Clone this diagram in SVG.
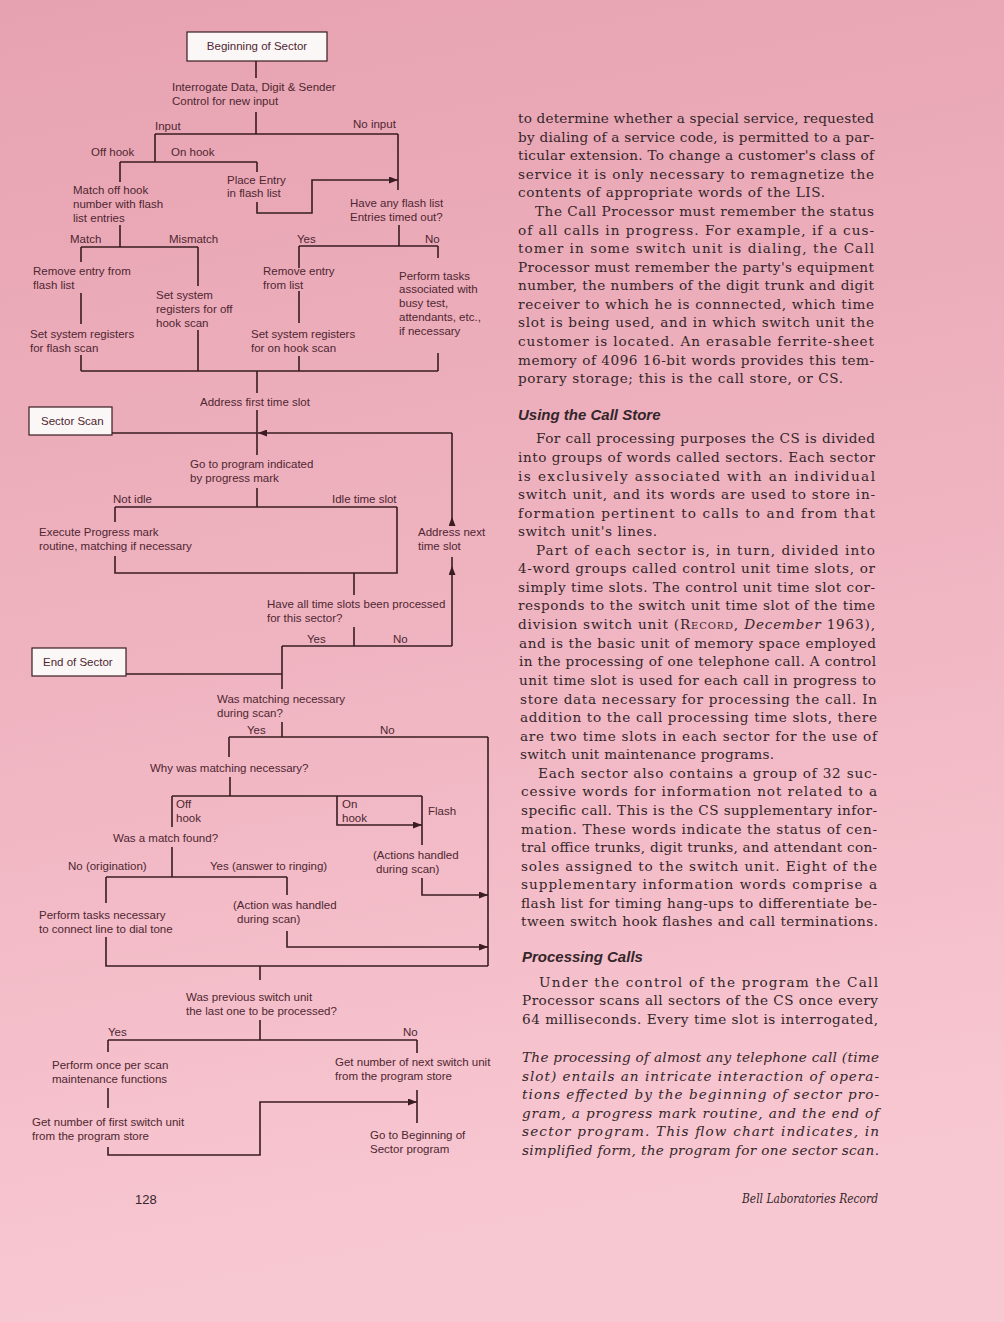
<svg xmlns="http://www.w3.org/2000/svg" width="1004" height="1322" viewBox="0 0 1004 1322">
<defs>
<linearGradient id="bg" x1="0" y1="0" x2="0.15" y2="1">
<stop offset="0" stop-color="#e7a2b1"/>
<stop offset="0.5" stop-color="#efb3c0"/>
<stop offset="1" stop-color="#f8c8d2"/>
</linearGradient>
<marker id="arr" markerUnits="userSpaceOnUse" markerWidth="9" markerHeight="7" refX="9" refY="3.5" orient="auto">
<path d="M0,0 L9,3.5 L0,7 z" fill="#3a1c22"/>
</marker>
<style>
.fc{font-family:"Liberation Sans","DejaVu Sans",sans-serif;font-size:11.5px;fill:#4f2631}
.bx{fill:#fbf7f6;stroke:#3a1c22;stroke-width:1.2}
.ln{fill:none;stroke:#3a1c22;stroke-width:1.6}
.bd{font-family:"DejaVu Serif","Liberation Serif",serif;font-size:13.6px;fill:#34262a}
.it{font-family:"DejaVu Serif","Liberation Serif",serif;font-size:13.6px;font-style:italic;fill:#34262a}
.hd{font-family:"Liberation Sans","DejaVu Sans",sans-serif;font-size:15px;font-weight:bold;font-style:italic;fill:#34262a}
.ft{font-family:"Liberation Sans","DejaVu Sans",sans-serif;font-size:13px;fill:#34262a}
</style>
</defs>
<rect width="1004" height="1322" fill="url(#bg)"/>

<g id="connectors" class="ln">
<path d="M256,61V78M256,112V134M155,134H398M155,134V162M398,134V190"/>
<path d="M120,162H257M120,162V182M257,162V172"/>
<path d="M257,202V213H312V180H398" marker-end="url(#arr)"/>
<path d="M120,225V247M81,247H198M81,247V262M198,247V286M81,293V324M81,355V371M198,330V371M81,371H438"/>
<path d="M399,225V246M299,246H438M299,246V268M299,291V323M299,356V371M438,246V258M438,353V371"/>
<path d="M257,371V393M257,410V455M112,433H257"/>
<path d="M452,433H258" marker-end="url(#arr)"/>
<path d="M452,646V566" marker-end="url(#arr)"/>
<path d="M452,566V557M452,517V433"/>
<path d="M452,525V517" marker-end="url(#arr)"/>
<path d="M257,488V507M115,507H397M115,507V522M115,556V573H397V507M354,573V595"/>
<path d="M354,627V646M282,646H452M126,674H282M282,646V689"/>
<path d="M282,722V737M229,737H488M229,737V757M488,737V966"/>
<path d="M230,777V796M172,796H422M422,796V845M172,796V827M172,847V877M106,877H287M106,877V903M287,877V895M106,937V966H488"/>
<path d="M337,796V825H422" marker-end="url(#arr)"/>
<path d="M422,878V895H488" marker-end="url(#arr)"/>
<path d="M287,931V947H488" marker-end="url(#arr)"/>
<path d="M260,966V980M260,1020V1040M108,1040H417M108,1040V1052M108,1088V1108M417,1040V1053M417,1090V1123"/>
<path d="M108,1147V1155H260V1102H417" marker-end="url(#arr)"/>
</g>

<g id="beginning-of-sector"><rect class="bx" x="187" y="32" width="140" height="29"/><text class="fc" x="257" y="50" text-anchor="middle">Beginning of Sector</text></g>
<g id="interrogate"><text class="fc" x="172" y="91">Interrogate Data, Digit &amp; Sender</text><text class="fc" x="172" y="105">Control for new input</text></g>
<g id="lbl-input"><text class="fc" x="155" y="130">Input</text></g>
<g id="lbl-noinput"><text class="fc" x="353" y="128">No input</text></g>
<g id="lbl-offhook"><text class="fc" x="91" y="156">Off hook</text></g>
<g id="lbl-onhook"><text class="fc" x="171" y="156">On hook</text></g>
<g id="place-entry"><text class="fc" x="227" y="184">Place Entry</text><text class="fc" x="227" y="197">in flash list</text></g>
<g id="match-off-hook"><text class="fc" x="73" y="194">Match off hook</text><text class="fc" x="73" y="208">number with flash</text><text class="fc" x="73" y="222">list entries</text></g>
<g id="flash-timed-out"><text class="fc" x="350" y="207">Have any flash list</text><text class="fc" x="350" y="221">Entries timed out?</text></g>
<g id="lbl-match"><text class="fc" x="70" y="243">Match</text></g>
<g id="lbl-mismatch"><text class="fc" x="169" y="243">Mismatch</text></g>
<g id="lbl-yes1"><text class="fc" x="297" y="243">Yes</text></g>
<g id="lbl-no1"><text class="fc" x="425" y="243">No</text></g>
<g id="remove-entry-flash"><text class="fc" x="33" y="275">Remove entry from</text><text class="fc" x="33" y="289">flash list</text></g>
<g id="set-offhook-scan"><text class="fc" x="156" y="299">Set system</text><text class="fc" x="156" y="313">registers for off</text><text class="fc" x="156" y="327">hook scan</text></g>
<g id="set-flash-scan"><text class="fc" x="30" y="338">Set system registers</text><text class="fc" x="30" y="352">for flash scan</text></g>
<g id="remove-entry-list"><text class="fc" x="263" y="275">Remove entry</text><text class="fc" x="263" y="289">from list</text></g>
<g id="set-onhook-scan"><text class="fc" x="251" y="338">Set system registers</text><text class="fc" x="251" y="352">for on hook scan</text></g>
<g id="perform-tasks-busy"><text class="fc" x="399" y="280">Perform tasks</text><text class="fc" x="399" y="293">associated with</text><text class="fc" x="399" y="307">busy test,</text><text class="fc" x="399" y="321">attendants, etc.,</text><text class="fc" x="399" y="335">if necessary</text></g>
<g id="address-first"><text class="fc" x="200" y="406">Address first time slot</text></g>
<g id="sector-scan"><rect class="bx" x="29" y="407" width="83" height="28"/><text class="fc" x="41" y="425">Sector Scan</text></g>
<g id="go-to-program"><text class="fc" x="190" y="468">Go to program indicated</text><text class="fc" x="190" y="482">by progress mark</text></g>
<g id="lbl-notidle"><text class="fc" x="113" y="503">Not idle</text></g>
<g id="lbl-idle"><text class="fc" x="332" y="503">Idle time slot</text></g>
<g id="execute-progress"><text class="fc" x="39" y="536">Execute Progress mark</text><text class="fc" x="39" y="550">routine, matching if necessary</text></g>
<g id="address-next"><text class="fc" x="418" y="536">Address next</text><text class="fc" x="418" y="550">time slot</text></g>
<g id="all-processed"><text class="fc" x="267" y="608">Have all time slots been processed</text><text class="fc" x="267" y="622">for this sector?</text></g>
<g id="lbl-yes2"><text class="fc" x="307" y="643">Yes</text></g>
<g id="lbl-no2"><text class="fc" x="393" y="643">No</text></g>
<g id="end-of-sector"><rect class="bx" x="32" y="648" width="94" height="28"/><text class="fc" x="43" y="666">End of Sector</text></g>
<g id="matching-necessary"><text class="fc" x="217" y="703">Was matching necessary</text><text class="fc" x="217" y="717">during scan?</text></g>
<g id="lbl-yes3"><text class="fc" x="247" y="734">Yes</text></g>
<g id="lbl-no3"><text class="fc" x="380" y="734">No</text></g>
<g id="why-matching"><text class="fc" x="150" y="772">Why was matching necessary?</text></g>
<g id="lbl-off-hook2"><text class="fc" x="176" y="808">Off</text><text class="fc" x="176" y="822">hook</text></g>
<g id="lbl-on-hook2"><text class="fc" x="342" y="808">On</text><text class="fc" x="342" y="822">hook</text></g>
<g id="lbl-flash"><text class="fc" x="428" y="815">Flash</text></g>
<g id="match-found"><text class="fc" x="113" y="842">Was a match found?</text></g>
<g id="actions-handled"><text class="fc" x="373" y="859">(Actions handled</text><text class="fc" x="376" y="873">during scan)</text></g>
<g id="lbl-no-origination"><text class="fc" x="68" y="870">No (origination)</text></g>
<g id="lbl-yes-answer"><text class="fc" x="210" y="870">Yes (answer to ringing)</text></g>
<g id="action-handled"><text class="fc" x="233" y="909">(Action was handled</text><text class="fc" x="237" y="923">during scan)</text></g>
<g id="dial-tone"><text class="fc" x="39" y="919">Perform tasks necessary</text><text class="fc" x="39" y="933">to connect line to dial tone</text></g>
<g id="previous-switch"><text class="fc" x="186" y="1001">Was previous switch unit</text><text class="fc" x="186" y="1015">the last one to be processed?</text></g>
<g id="lbl-yes4"><text class="fc" x="108" y="1036">Yes</text></g>
<g id="lbl-no4"><text class="fc" x="403" y="1036">No</text></g>
<g id="maintenance"><text class="fc" x="52" y="1069">Perform once per scan</text><text class="fc" x="52" y="1083">maintenance functions</text></g>
<g id="next-switch"><text class="fc" x="335" y="1066">Get number of next switch unit</text><text class="fc" x="335" y="1080">from the program store</text></g>
<g id="first-switch"><text class="fc" x="32" y="1126">Get number of first switch unit</text><text class="fc" x="32" y="1140">from the program store</text></g>
<g id="go-beginning"><text class="fc" x="370" y="1139">Go to Beginning of</text><text class="fc" x="370" y="1153">Sector program</text></g>

<g id="body-text">
<text class="bd" x="518" y="123" textLength="356">to determine whether a special service, requested</text>
<text class="bd" x="518" y="142" textLength="356">by dialing of a service code, is permitted to a par-</text>
<text class="bd" x="518" y="160" textLength="356">ticular extension. To change a customer's class of</text>
<text class="bd" x="518" y="179" textLength="356">service it is only necessary to remagnetize the</text>
<text class="bd" x="518" y="197" textLength="307">contents of appropriate words of the LIS.</text>
<text class="bd" x="535" y="216" textLength="339">The Call Processor must remember the status</text>
<text class="bd" x="518" y="235" textLength="356">of all calls in progress. For example, if a cus-</text>
<text class="bd" x="518" y="253" textLength="356">tomer in some switch unit is dialing, the Call</text>
<text class="bd" x="518" y="272" textLength="356">Processor must remember the party's equipment</text>
<text class="bd" x="518" y="290" textLength="356">number, the numbers of the digit trunk and digit</text>
<text class="bd" x="518" y="309" textLength="356">receiver to which he is connnected, which time</text>
<text class="bd" x="518" y="327" textLength="356">slot is being used, and in which switch unit the</text>
<text class="bd" x="518" y="346" textLength="356">customer is located. An erasable ferrite-sheet</text>
<text class="bd" x="518" y="365" textLength="356">memory of 4096 16-bit words provides this tem-</text>
<text class="bd" x="518" y="383" textLength="325">porary storage; this is the call store, or CS.</text>
<text class="hd" x="518" y="420">Using the Call Store</text>
<text class="bd" x="536" y="443" textLength="339">For call processing purposes the CS is divided</text>
<text class="bd" x="518" y="462" textLength="357">into groups of words called sectors. Each sector</text>
<text class="bd" x="518" y="481" textLength="357">is exclusively associated with an individual</text>
<text class="bd" x="518" y="499" textLength="357">switch unit, and its words are used to store in-</text>
<text class="bd" x="518" y="518" textLength="357">formation pertinent to calls to and from that</text>
<text class="bd" x="518" y="536" textLength="139">switch unit's lines.</text>
<text class="bd" x="536" y="555" textLength="339">Part of each sector is, in turn, divided into</text>
<text class="bd" x="518" y="573" textLength="357">4-word groups called control unit time slots, or</text>
<text class="bd" x="518" y="592" textLength="357">simply time slots. The control unit time slot cor-</text>
<text class="bd" x="518" y="610" textLength="357">responds to the switch unit time slot of the time</text>
<text class="bd" x="518" y="629" textLength="357">division switch unit (<tspan style="font-variant:small-caps">Record</tspan>, <tspan font-style="italic">December</tspan> 1963),</text>
<text class="bd" x="519" y="648" textLength="357">and is the basic unit of memory space employed</text>
<text class="bd" x="519" y="666" textLength="357">in the processing of one telephone call. A control</text>
<text class="bd" x="519" y="685" textLength="357">unit time slot is used for each call in progress to</text>
<text class="bd" x="520" y="704" textLength="357">store data necessary for processing the call. In</text>
<text class="bd" x="520" y="722" textLength="357">addition to the call processing time slots, there</text>
<text class="bd" x="520" y="741" textLength="357">are two time slots in each sector for the use of</text>
<text class="bd" x="520" y="759" textLength="254">switch unit maintenance programs.</text>
<text class="bd" x="538" y="778" textLength="339">Each sector also contains a group of 32 suc-</text>
<text class="bd" x="521" y="796" textLength="356">cessive words for information not related to a</text>
<text class="bd" x="521" y="815" textLength="356">specific call. This is the CS supplementary infor-</text>
<text class="bd" x="521" y="834" textLength="356">mation. These words indicate the status of cen-</text>
<text class="bd" x="521" y="852" textLength="356">tral office trunks, digit trunks, and attendant con-</text>
<text class="bd" x="521" y="871" textLength="356">soles assigned to the switch unit. Eight of the</text>
<text class="bd" x="521" y="889" textLength="356">supplementary information words comprise a</text>
<text class="bd" x="521" y="908" textLength="356">flash list for timing hang-ups to differentiate be-</text>
<text class="bd" x="521" y="926" textLength="357">tween switch hook flashes and call terminations.</text>
<text class="hd" x="522" y="962">Processing Calls</text>
<text class="bd" x="539" y="987" textLength="339">Under the control of the program the Call</text>
<text class="bd" x="522" y="1005" textLength="356">Processor scans all sectors of the CS once every</text>
<text class="bd" x="522" y="1024" textLength="356">64 milliseconds. Every time slot is interrogated,</text>
</g>

<g id="caption">
<text class="it" x="522" y="1062" textLength="357">The processing of almost any telephone call (time</text>
<text class="it" x="522" y="1081" textLength="357">slot) entails an intricate interaction of opera-</text>
<text class="it" x="522" y="1099" textLength="357">tions effected by the beginning of sector pro-</text>
<text class="it" x="522" y="1118" textLength="357">gram, a progress mark routine, and the end of</text>
<text class="it" x="522" y="1136" textLength="357">sector program. This flow chart indicates, in</text>
<text class="it" x="522" y="1155" textLength="357">simplified form, the program for one sector scan.</text>
</g>

<g id="footer">
<text class="ft" x="135" y="1204">128</text>
<text class="it" x="742" y="1203" textLength="136" lengthAdjust="spacingAndGlyphs">Bell Laboratories Record</text>
</g>
</svg>
